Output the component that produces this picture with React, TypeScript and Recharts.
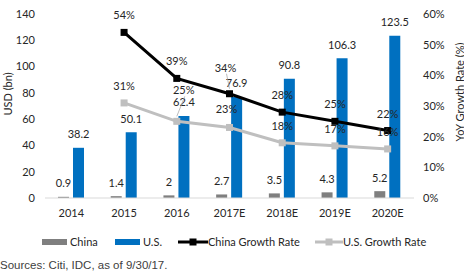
import React from 'react';
import { ComposedChart, Bar, Line, XAxis, YAxis, LabelList, Label } from 'recharts';

const years = ['2014', '2015', '2016', '2017E', '2018E', '2019E', '2020E'];
const chinaSpend = [0.9, 1.4, 2, 2.7, 3.5, 4.3, 5.2];
const usSpend = [38.2, 50.1, 62.4, 76.9, 90.8, 106.3, 123.5];
const chinaGrowth = [null, 54, 39, 34, 28, 25, 22];
const usGrowth = [null, 31, 25, 23, 18, 17, 16];
const leftTicks = [0, 20, 40, 60, 80, 100, 120, 140];
const rightTicks = [0, 10, 20, 30, 40, 50, 60];
const seriesNames = ['China', 'U.S.', 'China Growth Rate', 'U.S. Growth Rate'];

const data = years.map((y, i) => ({
  year: y,
  china: chinaSpend[i],
  us: usSpend[i],
  chinaG: chinaGrowth[i],
  usG: usGrowth[i],
}));

const FONT = 'Lato, "Open Sans", sans-serif';
const TXT = '#262626';
const GRAY_BAR = '#7f7f7f';
const BLUE = '#0070c0';
const BLACK = '#000000';
const LIGHT = '#bfbfbf';

// label placement adjustments (style only): [dx, dy, leader]
const chinaLabelNudge: Record<number, [number, number, boolean]> = { 3: [-4, -9, true] };
const usLabelNudge: Record<number, [number, number, boolean]> = { 2: [7, -14, true], 3: [-3, -1, false] };

const squareDot = (color: string) => (p: any) => {
  if (p.value == null || p.cx == null || p.cy == null) return <g key={`d${p.index}`} />;
  return <rect key={`d${p.index}`} x={p.cx - 3.5} y={p.cy - 3.5} width={7} height={7} fill={color} />;
};

const growthLabel = (nudges: Record<number, [number, number, boolean]>) => (p: any) => {
  if (p.value == null || p.x == null || p.y == null) return null;
  const n = nudges[p.index] || [0, 0, false];
  const lx = p.x + n[0];
  const ly = p.y - 13 + n[1];
  return (
    <g key={`l${p.index}`}>
      {n[2] ? <line x1={lx + 1} y1={ly + 2} x2={p.x} y2={p.y - 5} stroke="#a6a6a6" strokeWidth={0.75} /> : null}
      <text x={lx} y={ly} textAnchor="middle" style={{ fontFamily: FONT, fontSize: 11, fill: TXT }}>
        {`${p.value}%`}
      </text>
    </g>
  );
};

export default function App() {
  const tickStyle = { fontFamily: FONT, fontSize: 11, fill: TXT };
  return (
    <div style={{ position: 'absolute', left: 0, top: 0, width: 464, height: 280, background: '#fff' }}>
      <ComposedChart
        width={464}
        height={230}
        data={data}
        margin={{ top: 14, right: 0, bottom: 0, left: 0 }}
        barSize={11}
        barGap={4}
      >
        <XAxis
          dataKey="year"
          height={32}
          tickLine={false}
          tickSize={6}
          tickMargin={5}
          axisLine={{ stroke: '#d9d9d9', strokeWidth: 1 }}
          tick={tickStyle}
          interval={0}
        />
        <YAxis
          yAxisId="left"
          width={45}
          domain={[0, 140]}
          ticks={leftTicks}
          axisLine={false}
          tickLine={false}
          tickSize={6}
          tickMargin={4}
          tick={tickStyle}
          interval={0}
        >
          <Label
            content={() => (
              <text
                transform="translate(7,94) rotate(-90)"
                textAnchor="middle"
                dominantBaseline="central"
                style={{ fontFamily: FONT, fontSize: 11, fill: TXT }}
              >
                USD (bn)
              </text>
            )}
          />
        </YAxis>
        <YAxis
          yAxisId="right"
          orientation="right"
          width={50}
          domain={[0, 60]}
          ticks={rightTicks}
          axisLine={false}
          tickLine={false}
          tickSize={6}
          tickMargin={3}
          tick={tickStyle}
          tickFormatter={(v: number) => `${v}%`}
          interval={0}
        >
          <Label
            content={() => (
              <text
                transform="translate(459,92) rotate(-90)"
                textAnchor="middle"
                dominantBaseline="central"
                style={{ fontFamily: FONT, fontSize: 11, fill: TXT }}
              >
                YoY Growth Rate (%)
              </text>
            )}
          />
        </YAxis>
        <Bar yAxisId="left" dataKey="china" name={seriesNames[0]} fill={GRAY_BAR} isAnimationActive={false}>
          <LabelList dataKey="china" position="top" offset={9.5} style={{ fontFamily: FONT, fontSize: 11, fill: TXT }} />
        </Bar>
        <Bar yAxisId="left" dataKey="us" name={seriesNames[1]} fill={BLUE} isAnimationActive={false}>
          <LabelList dataKey="us" position="top" offset={9.5} style={{ fontFamily: FONT, fontSize: 11, fill: TXT }} />
        </Bar>
        <Line
          yAxisId="right"
          dataKey="usG"
          name={seriesNames[3]}
          stroke={LIGHT}
          strokeWidth={3}
          dot={squareDot(LIGHT)}
          activeDot={false}
          isAnimationActive={false}
        >
          <LabelList dataKey="usG" content={growthLabel(usLabelNudge)} />
        </Line>
        <Line
          yAxisId="right"
          dataKey="chinaG"
          name={seriesNames[2]}
          stroke={BLACK}
          strokeWidth={3}
          dot={squareDot(BLACK)}
          activeDot={false}
          isAnimationActive={false}
        >
          <LabelList dataKey="chinaG" content={growthLabel(chinaLabelNudge)} />
        </Line>
      </ComposedChart>
      <div style={{ position: 'absolute', top: 235, left: 0, width: 464, height: 16, fontFamily: FONT, fontSize: 11, color: TXT }}>
        <div style={{ position: 'absolute', left: 42, top: 4, width: 25, height: 6, background: GRAY_BAR }} />
        <div style={{ position: 'absolute', left: 70, top: 0, lineHeight: '14px' }}>{seriesNames[0]}</div>
        <div style={{ position: 'absolute', left: 115, top: 4, width: 25, height: 6, background: BLUE }} />
        <div style={{ position: 'absolute', left: 143, top: 0, lineHeight: '14px' }}>{seriesNames[1]}</div>
        <svg style={{ position: 'absolute', left: 178, top: 0 }} width={30} height={14}>
          <line x1={0} y1={7} x2={30} y2={7} stroke={BLACK} strokeWidth={3} />
          <rect x={11.5} y={3.5} width={7} height={7} fill={BLACK} />
        </svg>
        <div style={{ position: 'absolute', left: 208, top: 0, lineHeight: '14px' }}>{seriesNames[2]}</div>
        <svg style={{ position: 'absolute', left: 315, top: 0 }} width={28} height={14}>
          <line x1={0} y1={7} x2={28} y2={7} stroke={LIGHT} strokeWidth={3} />
          <rect x={10.5} y={3.5} width={7} height={7} fill={LIGHT} />
        </svg>
        <div style={{ position: 'absolute', left: 343, top: 0, lineHeight: '14px' }}>{seriesNames[3]}</div>
      </div>
      <div
        style={{
          position: 'absolute',
          top: 257,
          left: 0,
          fontFamily: '"Liberation Sans", Arial, sans-serif',
          fontSize: 11.5,
          color: '#404040',
          lineHeight: '16px',
          whiteSpace: 'nowrap',
        }}
      >
        Sources: Citi, IDC, as of 9/30/17.
      </div>
    </div>
  );
}
